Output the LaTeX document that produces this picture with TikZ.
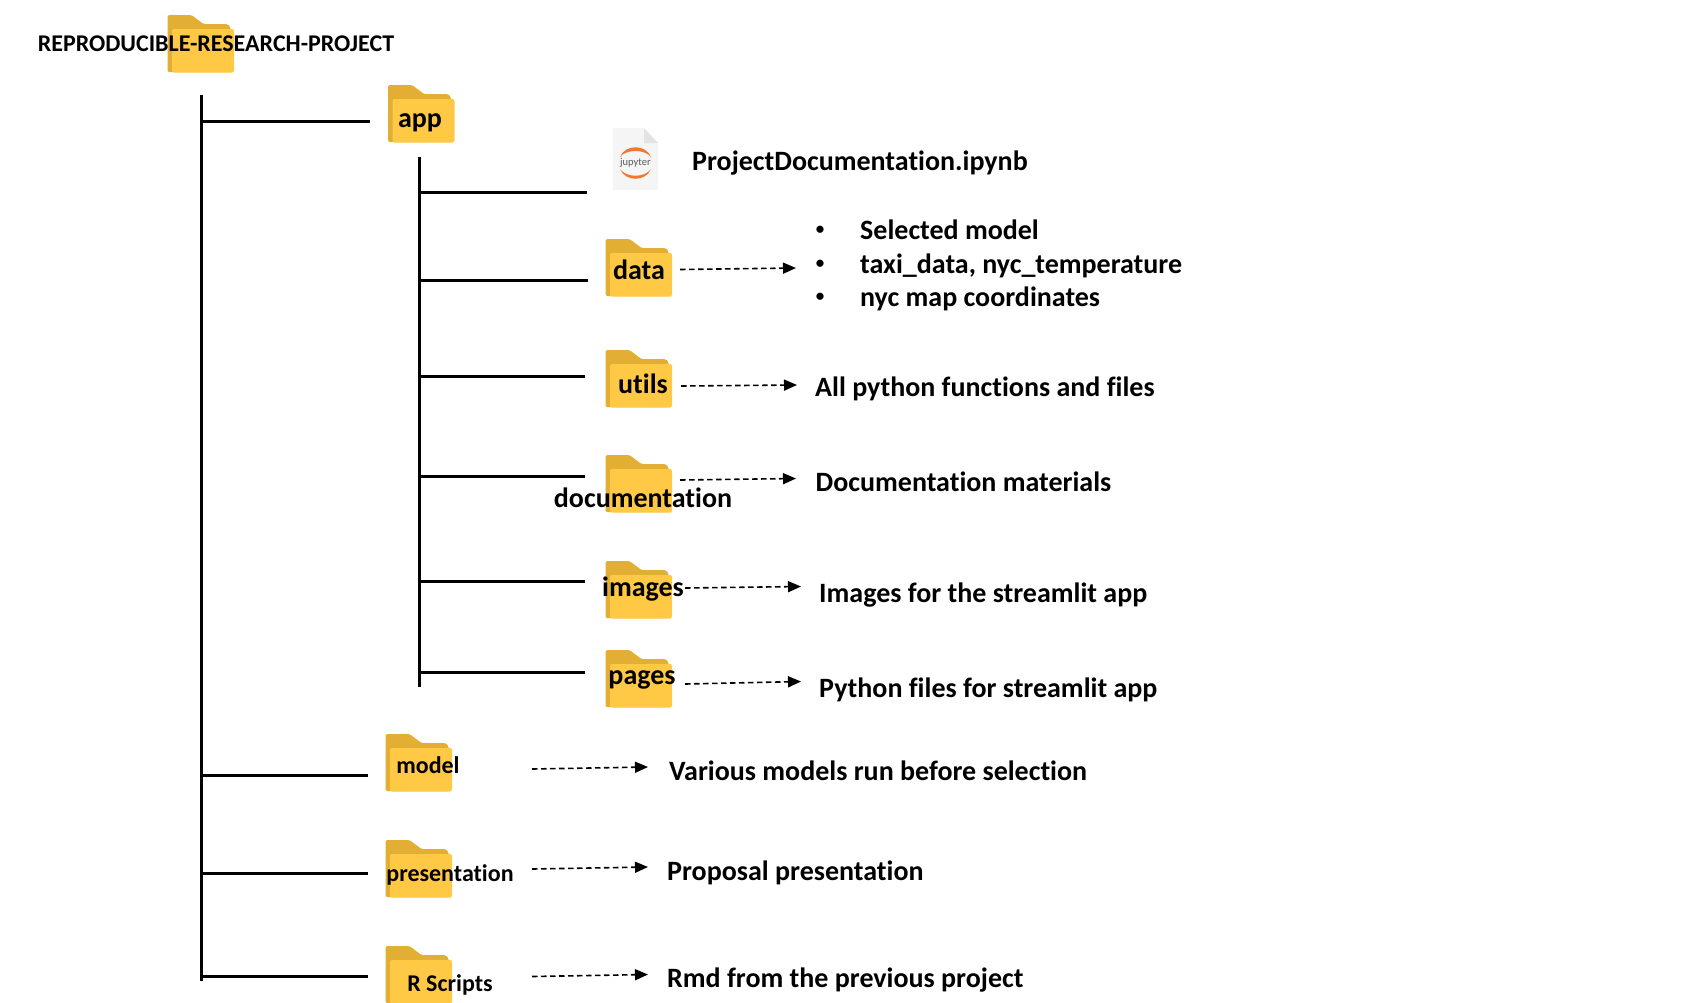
\documentclass[tikz,border=0pt]{standalone}
\usepackage{fontspec}
\setmainfont[Ligatures=NoCommon]{Carlito}
\usetikzlibrary{arrows.meta}
\definecolor{folderfront}{HTML}{FFC845}
\definecolor{folderback}{HTML}{E2AE33}
\definecolor{jorange}{HTML}{EE7733}
\tikzset{
  x=1pt,y=-1pt,
  trunk/.style={line width=3pt,black},
  flow/.style={line width=1.6pt,black,dash pattern=on 5.5pt off 3.5pt,-{Triangle[length=13pt,width=11pt,sep=0pt]}},
  lbl/.style={font=\fontsize{28}{30}\selectfont\bfseries,inner sep=0pt,anchor=base west,text=black},
  bul/.style={font=\fontsize{17}{20}\selectfont\bfseries,inner sep=0pt,anchor=center,text=black},
  flbl/.style={font=\fontsize{28}{30}\selectfont\bfseries,inner sep=0pt,anchor=center,text=black},
  slbl/.style={font=\fontsize{24}{27}\selectfont\bfseries,inner sep=0pt,anchor=center,text=black},
  folder/.pic={
    \fill[folderback,rounded corners=1.5pt] (0,0) -- (24,0) -- (36,9) -- (60,9) -- (63,12) -- (63,57) -- (0,57) -- cycle;
    \fill[folderfront,rounded corners=2pt] (4.5,14) -- (66.5,14) -- (66.5,57.5) -- (4.5,57.5) -- cycle;
  }
}
\begin{document}
\begin{tikzpicture}
\useasboundingbox (0,0) rectangle (1683,1002);
\clip (0,0) rectangle (1683,1002);
% folders
\pic at (167.5,15) {folder};
\pic at (388,85) {folder};
\pic at (605.5,239) {folder};
\pic at (605.5,350) {folder};
\pic at (605.5,455) {folder};
\pic at (605.5,561) {folder};
\pic at (605.5,650) {folder};
\pic at (385.5,734) {folder};
\pic at (385.5,840) {folder};
\pic at (385.5,946) {folder};
% jupyter icon
\fill[black!4] (613,128) -- (644,128) -- (658,143) -- (658,190) -- (613,190) -- cycle;
\fill[black!11] (644,128) -- (658,143) -- (644,143) -- cycle;
\fill[jorange] (620,157) .. controls (625,144) and (646,144) .. (651,157) .. controls (645,149) and (626,149) .. (620,157) -- cycle;
\fill[jorange] (620,169) .. controls (625,182) and (646,182) .. (651,169) .. controls (645,178) and (626,178) .. (620,169) -- cycle;
\node[font=\fontsize{10.5}{12}\selectfont,text=black!65,inner sep=0pt] (jlabel) at (635.5,163) {jupyter};
% coordinates
\coordinate (rootT) at (201,94.5);
\coordinate (rootB) at (201,981);
\coordinate (rApp0) at (203,121.5); \coordinate (rApp1) at (370,121.5);
\coordinate (rMod0) at (201,775); \coordinate (rMod1) at (368,775);
\coordinate (rPre0) at (201,873.5); \coordinate (rPre1) at (368,873.5);
\coordinate (rRsc0) at (201,976.5); \coordinate (rRsc1) at (368,976.5);
\coordinate (appT) at (419,157);
\coordinate (appB) at (419,687);
\coordinate (aIpy0) at (419,192); \coordinate (aIpy1) at (587,192);
\coordinate (aDat0) at (419,280); \coordinate (aDat1) at (588,280);
\coordinate (aUti0) at (419,376.5); \coordinate (aUti1) at (585,376.5);
\coordinate (aDoc0) at (419,476); \coordinate (aDoc1) at (585,476);
\coordinate (aImg0) at (419,581); \coordinate (aImg1) at (585,581);
\coordinate (aPag0) at (419,672.5); \coordinate (aPag1) at (585,672.5);
\coordinate (fDat0) at (680,269.5); \coordinate (fDat1) at (796,268);
\coordinate (fUti0) at (681,386); \coordinate (fUti1) at (797,385);
\coordinate (fDoc0) at (680,480); \coordinate (fDoc1) at (796,478.5);
\coordinate (fImg0) at (685,588); \coordinate (fImg1) at (801,586.5);
\coordinate (fPag0) at (685,684); \coordinate (fPag1) at (801,681.5);
\coordinate (fMod0) at (532,769); \coordinate (fMod1) at (648,767);
\coordinate (fPre0) at (532,869); \coordinate (fPre1) at (648,867);
\coordinate (fRsc0) at (532,976.5); \coordinate (fRsc1) at (648,974.5);
% solid lines
\draw[trunk] (rootT) -- (rootB);
\draw[trunk] (appT) -- (appB);
\foreach \a in {rApp,rMod,rPre,rRsc,aIpy,aDat,aUti,aDoc,aImg,aPag}
  \draw[trunk] (\a0) -- (\a1);
% dashed arrows
\foreach \a in {fDat,fUti,fDoc,fImg,fPag,fMod,fPre,fRsc}
  \draw[flow] (\a0) -- (\a1);
% folder labels
\node[slbl] (root) at (216,44) {REPRODUCIBLE-RESEARCH-PROJECT};
\node[flbl] (app) at (420,123) {app};
\node[flbl] (data) at (639,270) {data};
\node[flbl] (utils) at (643,384) {utils};
\node[flbl] (documentation) at (643,498) {documentation};
\node[flbl] (images) at (643,589) {images};
\node[flbl] (pages) at (642,680) {pages};
\node[slbl] (model) at (428,765) {model};
\node[slbl] (presentation) at (450,875) {presentation};
\node[slbl] (rscripts) at (450,985) {R Scripts};
% descriptions
\node[lbl] (ipynb) at (692,170) {ProjectDocumentation.ipynb};
\node[bul] (d1b) at (820,230) {•};
\node[lbl] (d1) at (860,239.5) {Selected model};
\node[bul] (d2b) at (820,264) {•};
\node[lbl] (d2) at (860,273.5) {taxi\_data, nyc\_temperature};
\node[bul] (d3b) at (820,297) {•};
\node[lbl] (d3) at (860,306.5) {nyc map coordinates};
\node[lbl] (tu) at (815,396.5) {All python functions and files};
\node[lbl] (tdoc) at (815.5,491) {Documentation materials};
\node[lbl] (timg) at (819,602.5) {Images for the streamlit app};
\node[lbl] (tpag) at (819,697) {Python files for streamlit app};
\node[lbl] (tmod) at (669,780.5) {Various models run before selection};
\node[lbl] (tpre) at (667,880) {Proposal presentation};
\node[lbl] (trsc) at (667,987) {Rmd from the previous project};
\end{tikzpicture}
\end{document}
